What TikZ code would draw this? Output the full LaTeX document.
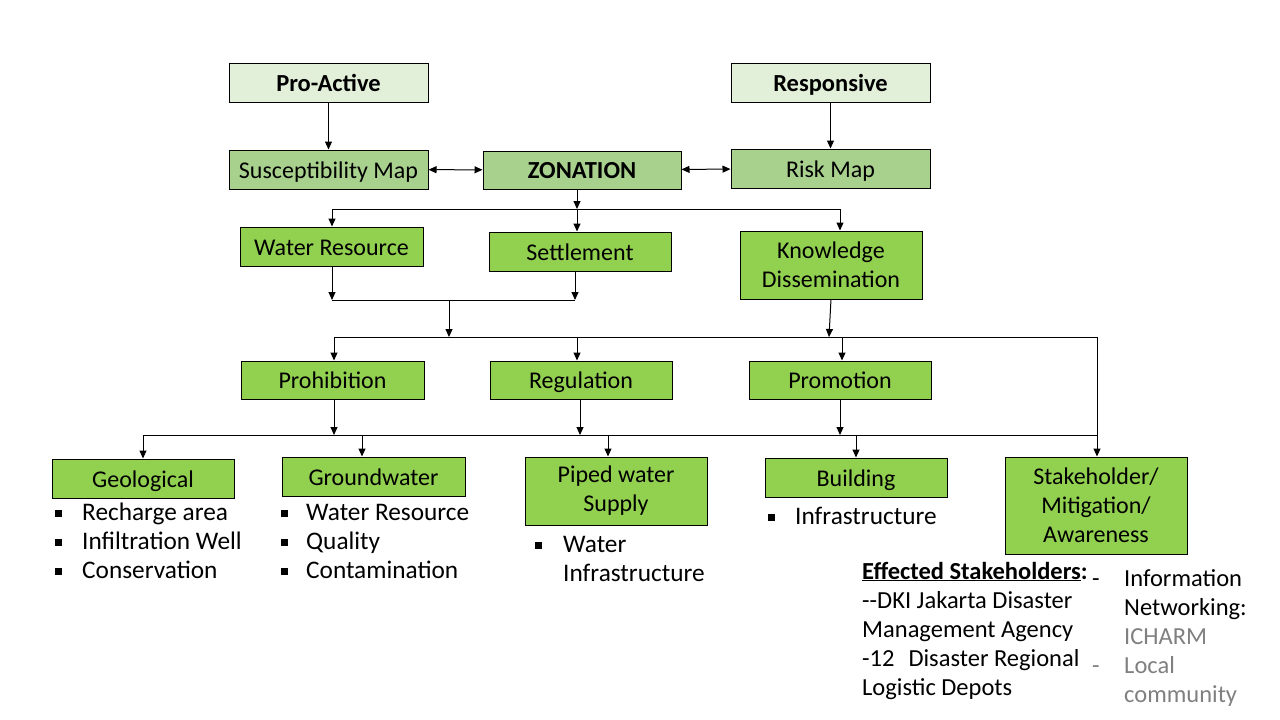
\documentclass[tikz,border=0pt]{standalone}
\usepackage{fontspec}
\setmainfont{Carlito}
\usetikzlibrary{arrows.meta, positioning}
\definecolor{palegreen}{HTML}{E2F0D9}
\definecolor{midgreen}{HTML}{A9D18E}
\definecolor{leafgreen}{HTML}{92D050}
\definecolor{softgray}{HTML}{808080}

\begin{document}
\begin{tikzpicture}[x=1pt, y=-1pt,
  box/.style={draw=black, line width=1pt, inner sep=0pt, align=center, text=black, font=\fontsize{24}{29}\selectfont,
    text height=21.5pt, text depth=4.5pt},
  multi/.style={text height={}, text depth={}},
  toplevel/.style={box, fill=palegreen, minimum width=199pt, minimum height=39pt, font=\fontsize{24.5}{29}\selectfont\bfseries},
  mapbox/.style={box, fill=midgreen, minimum width=199pt, minimum height=39pt},
  actbox/.style={box, fill=leafgreen, minimum width=182pt, minimum height=39pt},
  link/.style={line width=1pt, -{Triangle[length=8pt,width=7pt]}},
  twoway/.style={line width=1pt, {Triangle[length=8pt,width=7pt]}-{Triangle[length=8pt,width=7pt]}},
  bus/.style={line width=1pt},
  item/.style={anchor=base west, inner sep=0pt, font=\fontsize{25.3}{29}\selectfont},
  note/.style={item, font=\fontsize{24.5}{29}\selectfont},
]
\useasboundingbox (0,0) rectangle (1280,720);

\node[toplevel] (proactive) at (328.5,82.5) {Pro-Active};
\node[toplevel] (responsive) at (830.5,82.5) {Responsive};
\node[mapbox] (suscmap) at (328.5,169.5) {Susceptibility Map};
\node[mapbox, minimum width=198pt, minimum height=38pt, font=\fontsize{24.5}{29}\selectfont\bfseries] (zonation) at (582,170) {ZONATION};
\node[mapbox] (riskmap) at (830.5,168.5) {Risk Map};
\node[actbox, minimum width=183pt] (waterres) at (331.5,246.5) {Water Resource};
\node[actbox] (settlement) at (580,251.5) {Settlement};
\node[actbox, multi, minimum height=68pt] (knowledge) at (831,265) {Knowledge\\Dissemination};
\node[actbox, minimum width=183pt, minimum height=38pt] (prohibition) at (332.5,380) {Prohibition};
\node[actbox, minimum height=38pt] (regulation) at (581,380) {Regulation};
\node[actbox, minimum height=38pt] (promotion) at (840,380) {Promotion};
\node[actbox] (geological) at (143,478.5) {Geological};
\node[actbox, minimum width=183pt] (groundwater) at (373.5,476.5) {Groundwater};
\node[actbox, multi, minimum height=68pt] (piped) at (616,491) {Piped water\\Supply};
\node[actbox] (building) at (856,477.5) {Building};
\node[actbox, multi, minimum height=97pt] (stakeholder) at (1096,505.5) {Stakeholder/\\Mitigation/\\Awareness};

\draw[link] (proactive) -- (suscmap);
\draw[link] (responsive) -- (riskmap);
\draw[twoway] (suscmap) -- (zonation);
\draw[twoway] (zonation) -- (riskmap);

\coordinate (zsplit) at (577,209);
\coordinate (zbusw) at (332,209);
\coordinate (zbuse) at (840,209);
\draw[link] (zonation.south -| zsplit) -- (zsplit);
\draw[bus] (zbusw) -- (zbuse);
\draw[link] (zbusw) -- (waterres.north -| zbusw);
\draw[link] (zsplit) -- (settlement.north -| zsplit);
\draw[link] (zbuse) -- (knowledge.north -| zbuse);

\coordinate (mjoinw) at (332,300);
\coordinate (mjoine) at (575,300);
\coordinate (mjoin) at (449,300);
\coordinate (kstart) at (831,299);
\coordinate (kdrop) at (829,337);
\coordinate (pbusw) at (334,337);
\coordinate (pbuse) at (1097,337);
\coordinate (pregul) at (577,337);
\coordinate (ppromo) at (842,337);
\draw[link] (waterres.south -| mjoinw) -- (mjoinw);
\draw[link] (settlement.south -| mjoine) -- (mjoine);
\draw[bus] (mjoinw) -- (mjoine);
\draw[link] (mjoin) -- (mjoin |- pbusw);
\draw[link] (kstart) -- (kdrop);
\draw[bus] (pbusw) -- (pbuse);
\draw[link] (pbusw) -- (prohibition.north -| pbusw);
\draw[link] (pregul) -- (regulation.north -| pregul);
\draw[link] (ppromo) -- (promotion.north -| ppromo);
\draw[link] (pbuse) -- (stakeholder.north -| pbuse);

\coordinate (lbusw) at (143,435);
\coordinate (lbuse) at (1097,435);
\coordinate (lprohib) at (334,435);
\coordinate (lregul) at (580,435);
\coordinate (lpromo) at (840,435);
\coordinate (lground) at (362,435);
\coordinate (lpiped) at (608,435);
\coordinate (lbuild) at (856,435);
\draw[bus] (lbusw) -- (lbuse);
\draw[link] (prohibition.south -| lprohib) -- (lprohib);
\draw[link] (regulation.south -| lregul) -- (lregul);
\draw[link] (promotion.south -| lpromo) -- (lpromo);
\draw[link] (lbusw) -- (geological.north);
\draw[link] (lground) -- (groundwater.north -| lground);
\draw[link] (lpiped) -- (piped.north -| lpiped);
\draw[link] (lbuild) -- (building.north -| lbuild);

\foreach \txt [count=\i] in {Recharge area, Infiltration Well, Conservation} {
  \pgfmathsetmacro{\ypos}{483+29*\i}
  \fill (54.5,\ypos-2.5) rectangle (61.5,\ypos+4.5);
  \node[item] (geoitem\i) at (82,\ypos+8) {\txt};
}
\foreach \txt [count=\i] in {Water Resource, Quality, Contamination} {
  \pgfmathsetmacro{\ypos}{483+29*\i}
  \fill (280.5,\ypos-2.5) rectangle (287.5,\ypos+4.5);
  \node[item] (gwitem\i) at (306,\ypos+8) {\txt};
}
\fill (534.5,541.5) rectangle (541.5,548.5);
\node[item] (pipeditem1) at (563,552) {Water};
\node[item] (pipeditem2) at (563,581) {Infrastructure};
\fill (767.5,513.5) rectangle (774.5,520.5);
\node[item] (builditem) at (795,524) {Infrastructure};

\foreach \txt [count=\i] in {{\textbf{\underline{Effected Stakeholders}:}}, {-{}-DKI Jakarta Disaster}, {Management Agency}, {-12\hspace{14pt}Disaster Regional}, {Logistic Depots}} {
  \pgfmathsetmacro{\ypos}{542+29*\i}
  \node[note] (effitem\i) at (862,\ypos+8) {\txt};
}
\node[note] (infodash) at (1092,586) {-};
\node[note] (infoline1) at (1124,586) {Information};
\node[note] (infoline2) at (1124,615) {Networking:};
\node[note, text=softgray] (infoline3) at (1124,644) {ICHARM};
\node[note, text=softgray] (localdash) at (1092,673) {-};
\node[note, text=softgray] (localline1) at (1124,673) {Local};
\node[note, text=softgray] (localline2) at (1124,702) {community};
\end{tikzpicture}
\end{document}
